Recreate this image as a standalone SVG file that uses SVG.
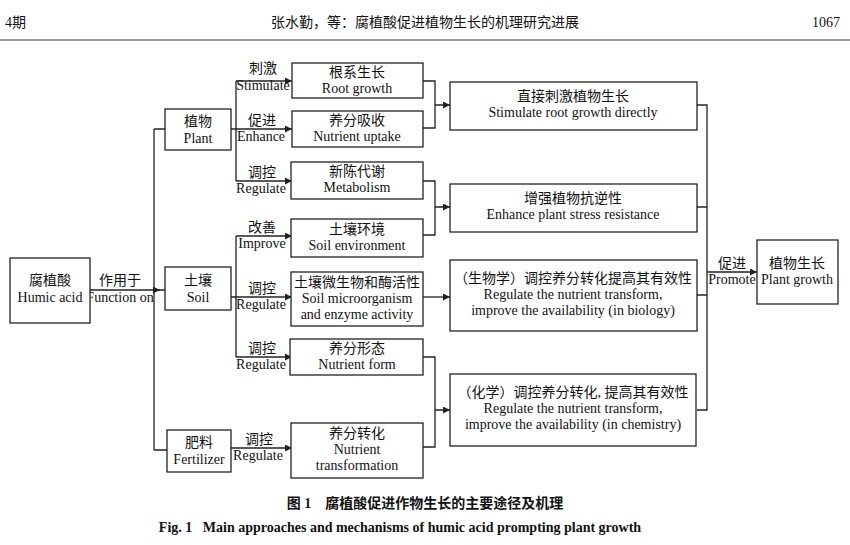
<svg xmlns="http://www.w3.org/2000/svg" width="850" height="545" viewBox="0 0 850 545">
<defs>
<style>
text{font-family:"Liberation Serif","Noto Sans CJK SC",serif;font-size:14px;fill:#111;text-anchor:middle}
.b{fill:#fff;stroke:#222;stroke-width:1.3}
.l{fill:none;stroke:#222;stroke-width:1.3}
.h{text-anchor:start}
.t{font-weight:bold;font-size:14px}
</style>
<marker id="a" viewBox="0 0 8 8" refX="8" refY="4" markerWidth="7" markerHeight="7" orient="auto" markerUnits="userSpaceOnUse"><path d="M0,0L8,4L0,8z" fill="#222"/></marker>
</defs>
<rect width="850" height="545" fill="#fff"/>
<text class="h" x="5" y="27">4期</text>
<text x="425" y="27">张水勤，等：腐植酸促进植物生长的机理研究进展</text>
<text x="840" y="27" style="text-anchor:end">1067</text>
<line x1="0" y1="40" x2="850" y2="40" stroke="#333" stroke-width="1"/>

<g id="connectors">
<path class="l" d="M154,129V450M154,129H165M154,290H165M154,450H167"/>
<path class="l" d="M90,290H160" marker-end="url(#a)"/>
<path class="l" d="M231,129H236M236,81V181"/>
<path class="l" d="M236,81H292" marker-end="url(#a)"/>
<path class="l" d="M236,129H292" marker-end="url(#a)"/>
<path class="l" d="M236,181H292" marker-end="url(#a)"/>
<path class="l" d="M231,297H236M236,236V357"/>
<path class="l" d="M236,236H292" marker-end="url(#a)"/>
<path class="l" d="M236,297H292" marker-end="url(#a)"/>
<path class="l" d="M236,357H292" marker-end="url(#a)"/>
<path class="l" d="M231,448H292" marker-end="url(#a)"/>
<path class="l" d="M423,81H435V128H423M435,105H450" marker-end="url(#a)"/>
<path class="l" d="M423,181H435V235H423M435,207H450" marker-end="url(#a)"/>
<path class="l" d="M423,297H450" marker-end="url(#a)"/>
<path class="l" d="M423,357H435V447H423M435,410H450" marker-end="url(#a)"/>
<path class="l" d="M697,105H707V410H697M697,207H707M697,295H707M707,272H757" marker-end="url(#a)"/>
<text x="263" y="73">刺激</text><text x="263" y="90">Stimulate</text>
<text x="262" y="125">促进</text><text x="261" y="141">Enhance</text>
<text x="262" y="177">调控</text><text x="261" y="193">Regulate</text>
<text x="262" y="232">改善</text><text x="262" y="248">Improve</text>
<text x="262" y="293">调控</text><text x="261" y="309">Regulate</text>
<text x="262" y="353">调控</text><text x="261" y="369">Regulate</text>
<text x="259" y="444">调控</text><text x="258" y="460">Regulate</text>
<text x="120" y="285">作用于</text><text x="120" y="302">Function on</text>
<text x="732" y="268">促进</text><text x="732" y="284">Promote</text>
</g>

<g id="humic"><rect class="b" x="10" y="258" width="80" height="65"/><text x="50" y="285">腐植酸</text><text x="50" y="302">Humic acid</text></g>
<g id="plant"><rect class="b" x="165" y="109" width="66" height="41"/><text x="198" y="126">植物</text><text x="198" y="143">Plant</text></g>
<g id="soil"><rect class="b" x="165" y="267" width="66" height="43"/><text x="198" y="285">土壤</text><text x="198" y="302">Soil</text></g>
<g id="fertilizer"><rect class="b" x="167" y="430" width="64" height="42"/><text x="199" y="447">肥料</text><text x="199" y="464">Fertilizer</text></g>

<g id="root"><rect class="b" x="292" y="63" width="131" height="35"/><text x="357" y="77">根系生长</text><text x="357" y="93">Root growth</text></g>
<g id="uptake"><rect class="b" x="292" y="111" width="131" height="36"/><text x="357" y="125">养分吸收</text><text x="357" y="141">Nutrient uptake</text></g>
<g id="metab"><rect class="b" x="291" y="162" width="132" height="37"/><text x="357" y="176">新陈代谢</text><text x="357" y="192">Metabolism</text></g>
<g id="soilenv"><rect class="b" x="291" y="219" width="132" height="38"/><text x="357" y="234">土壤环境</text><text x="357" y="250">Soil environment</text></g>
<g id="microorg"><rect class="b" x="291" y="272" width="132" height="54"/><text x="357" y="287">土壤微生物和酶活性</text><text x="357" y="303">Soil microorganism</text><text x="357" y="319">and enzyme activity</text></g>
<g id="nform"><rect class="b" x="290" y="339" width="133" height="36"/><text x="357" y="353">养分形态</text><text x="357" y="369">Nutrient form</text></g>
<g id="ntrans"><rect class="b" x="291" y="423" width="132" height="55"/><text x="357" y="438">养分转化</text><text x="357" y="454">Nutrient</text><text x="357" y="470">transformation</text></g>

<g id="direct"><rect class="b" x="450" y="82" width="247" height="48"/><text x="573" y="101">直接刺激植物生长</text><text x="573" y="117">Stimulate root growth directly</text></g>
<g id="stress"><rect class="b" x="450" y="184" width="247" height="48"/><text x="573" y="203">增强植物抗逆性</text><text x="573" y="219">Enhance plant stress resistance</text></g>
<g id="bio"><rect class="b" x="450" y="260" width="247" height="71"/><text x="573" y="283">（生物学）调控养分转化提高其有效性</text><text x="573" y="299">Regulate the nutrient transform,</text><text x="573" y="315">improve the availability (in biology)</text></g>
<g id="chem"><rect class="b" x="450" y="374" width="246" height="72"/><text x="573" y="397">（化学）调控养分转化, 提高其有效性</text><text x="573" y="413">Regulate the nutrient transform,</text><text x="573" y="429">improve the availability (in chemistry)</text></g>
<g id="growth"><rect class="b" x="757" y="240" width="81" height="64"/><text x="797" y="268">植物生长</text><text x="797" y="284">Plant growth</text></g>

<text class="t" x="425" y="508" xml:space="preserve">图 1　腐植酸促进作物生长的主要途径及机理</text>
<text class="t" x="400" y="532" xml:space="preserve">Fig. 1   Main approaches and mechanisms of humic acid prompting plant growth</text>
</svg>
